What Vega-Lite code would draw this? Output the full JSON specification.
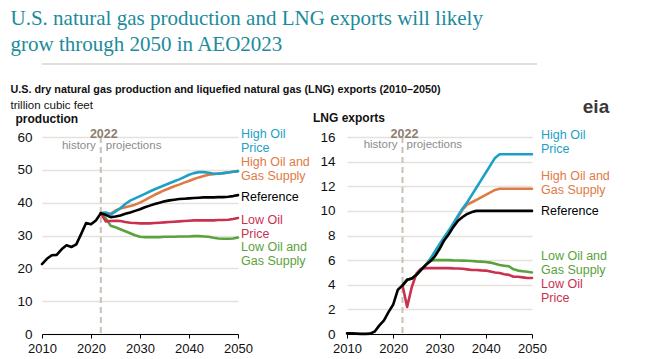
{
  "$schema": "https://vega.github.io/schema/vega-lite/v6.json",
  "padding": {"left": 10, "top": 8, "right": 0, "bottom": 0},
  "background": "white",
  "title": {
    "text": ["U.S. natural gas production and LNG exports will likely", "grow through 2050 in AEO2023"],
    "font": "Liberation Serif", "fontSize": 21, "fontWeight": "normal", "color": "#1b8b9b",
    "anchor": "start", "lineHeight": 26, "offset": 8
  },
  "config": {
    "font": "Liberation Sans",
    "view": {"stroke": null}
  },
  "datasets": {
    "production": [
      {"series": "High Oil and Gas Supply", "year": 2022, "value": 36.8}, {"series": "High Oil and Gas Supply", "year": 2023, "value": 36.8}, {"series": "High Oil and Gas Supply", "year": 2024, "value": 36.6}, {"series": "High Oil and Gas Supply", "year": 2025, "value": 37.6}, {"series": "High Oil and Gas Supply", "year": 2026, "value": 38.2}, {"series": "High Oil and Gas Supply", "year": 2027, "value": 38.6}, {"series": "High Oil and Gas Supply", "year": 2028, "value": 39.0}, {"series": "High Oil and Gas Supply", "year": 2029, "value": 39.4}, {"series": "High Oil and Gas Supply", "year": 2030, "value": 40.0}, {"series": "High Oil and Gas Supply", "year": 2031, "value": 40.8}, {"series": "High Oil and Gas Supply", "year": 2032, "value": 41.6}, {"series": "High Oil and Gas Supply", "year": 2033, "value": 42.4}, {"series": "High Oil and Gas Supply", "year": 2034, "value": 43.1}, {"series": "High Oil and Gas Supply", "year": 2035, "value": 43.8}, {"series": "High Oil and Gas Supply", "year": 2036, "value": 44.4}, {"series": "High Oil and Gas Supply", "year": 2037, "value": 45.0}, {"series": "High Oil and Gas Supply", "year": 2038, "value": 45.5}, {"series": "High Oil and Gas Supply", "year": 2039, "value": 46.1}, {"series": "High Oil and Gas Supply", "year": 2040, "value": 46.6}, {"series": "High Oil and Gas Supply", "year": 2041, "value": 47.2}, {"series": "High Oil and Gas Supply", "year": 2042, "value": 47.7}, {"series": "High Oil and Gas Supply", "year": 2043, "value": 48.1}, {"series": "High Oil and Gas Supply", "year": 2044, "value": 48.5}, {"series": "High Oil and Gas Supply", "year": 2045, "value": 48.7}, {"series": "High Oil and Gas Supply", "year": 2046, "value": 48.9}, {"series": "High Oil and Gas Supply", "year": 2047, "value": 49.0}, {"series": "High Oil and Gas Supply", "year": 2048, "value": 49.2}, {"series": "High Oil and Gas Supply", "year": 2049, "value": 49.4}, {"series": "High Oil and Gas Supply", "year": 2050, "value": 49.6},
      {"series": "High Oil Price", "year": 2022, "value": 36.8}, {"series": "High Oil Price", "year": 2023, "value": 37.0}, {"series": "High Oil Price", "year": 2024, "value": 36.4}, {"series": "High Oil Price", "year": 2025, "value": 37.3}, {"series": "High Oil Price", "year": 2026, "value": 38.3}, {"series": "High Oil Price", "year": 2027, "value": 39.6}, {"series": "High Oil Price", "year": 2028, "value": 40.6}, {"series": "High Oil Price", "year": 2029, "value": 41.3}, {"series": "High Oil Price", "year": 2030, "value": 42.0}, {"series": "High Oil Price", "year": 2031, "value": 42.7}, {"series": "High Oil Price", "year": 2032, "value": 43.4}, {"series": "High Oil Price", "year": 2033, "value": 44.1}, {"series": "High Oil Price", "year": 2034, "value": 44.7}, {"series": "High Oil Price", "year": 2035, "value": 45.3}, {"series": "High Oil Price", "year": 2036, "value": 45.9}, {"series": "High Oil Price", "year": 2037, "value": 46.5}, {"series": "High Oil Price", "year": 2038, "value": 47.1}, {"series": "High Oil Price", "year": 2039, "value": 47.8}, {"series": "High Oil Price", "year": 2040, "value": 48.5}, {"series": "High Oil Price", "year": 2041, "value": 49.0}, {"series": "High Oil Price", "year": 2042, "value": 49.3}, {"series": "High Oil Price", "year": 2043, "value": 49.3}, {"series": "High Oil Price", "year": 2044, "value": 49.1}, {"series": "High Oil Price", "year": 2045, "value": 48.8}, {"series": "High Oil Price", "year": 2046, "value": 48.8}, {"series": "High Oil Price", "year": 2047, "value": 49.0}, {"series": "High Oil Price", "year": 2048, "value": 49.2}, {"series": "High Oil Price", "year": 2049, "value": 49.4}, {"series": "High Oil Price", "year": 2050, "value": 49.6},
      {"series": "Low Oil and Gas Supply", "year": 2022, "value": 36.8}, {"series": "Low Oil and Gas Supply", "year": 2023, "value": 35.3}, {"series": "Low Oil and Gas Supply", "year": 2024, "value": 33.0}, {"series": "Low Oil and Gas Supply", "year": 2025, "value": 32.5}, {"series": "Low Oil and Gas Supply", "year": 2026, "value": 31.9}, {"series": "Low Oil and Gas Supply", "year": 2027, "value": 31.3}, {"series": "Low Oil and Gas Supply", "year": 2028, "value": 30.7}, {"series": "Low Oil and Gas Supply", "year": 2029, "value": 30.1}, {"series": "Low Oil and Gas Supply", "year": 2030, "value": 29.6}, {"series": "Low Oil and Gas Supply", "year": 2031, "value": 29.5}, {"series": "Low Oil and Gas Supply", "year": 2032, "value": 29.5}, {"series": "Low Oil and Gas Supply", "year": 2033, "value": 29.5}, {"series": "Low Oil and Gas Supply", "year": 2034, "value": 29.5}, {"series": "Low Oil and Gas Supply", "year": 2035, "value": 29.6}, {"series": "Low Oil and Gas Supply", "year": 2036, "value": 29.6}, {"series": "Low Oil and Gas Supply", "year": 2037, "value": 29.6}, {"series": "Low Oil and Gas Supply", "year": 2038, "value": 29.7}, {"series": "Low Oil and Gas Supply", "year": 2039, "value": 29.7}, {"series": "Low Oil and Gas Supply", "year": 2040, "value": 29.7}, {"series": "Low Oil and Gas Supply", "year": 2041, "value": 29.8}, {"series": "Low Oil and Gas Supply", "year": 2042, "value": 29.8}, {"series": "Low Oil and Gas Supply", "year": 2043, "value": 29.7}, {"series": "Low Oil and Gas Supply", "year": 2044, "value": 29.6}, {"series": "Low Oil and Gas Supply", "year": 2045, "value": 29.3}, {"series": "Low Oil and Gas Supply", "year": 2046, "value": 29.1}, {"series": "Low Oil and Gas Supply", "year": 2047, "value": 29.0}, {"series": "Low Oil and Gas Supply", "year": 2048, "value": 29.0}, {"series": "Low Oil and Gas Supply", "year": 2049, "value": 29.1}, {"series": "Low Oil and Gas Supply", "year": 2050, "value": 29.4},
      {"series": "Low Oil Price", "year": 2022, "value": 36.8}, {"series": "Low Oil Price", "year": 2023, "value": 34.3}, {"series": "Low Oil Price", "year": 2024, "value": 34.4}, {"series": "Low Oil Price", "year": 2025, "value": 34.5}, {"series": "Low Oil Price", "year": 2026, "value": 34.4}, {"series": "Low Oil Price", "year": 2027, "value": 34.1}, {"series": "Low Oil Price", "year": 2028, "value": 33.9}, {"series": "Low Oil Price", "year": 2029, "value": 33.8}, {"series": "Low Oil Price", "year": 2030, "value": 33.7}, {"series": "Low Oil Price", "year": 2031, "value": 33.7}, {"series": "Low Oil Price", "year": 2032, "value": 33.7}, {"series": "Low Oil Price", "year": 2033, "value": 33.8}, {"series": "Low Oil Price", "year": 2034, "value": 33.9}, {"series": "Low Oil Price", "year": 2035, "value": 34.0}, {"series": "Low Oil Price", "year": 2036, "value": 34.1}, {"series": "Low Oil Price", "year": 2037, "value": 34.2}, {"series": "Low Oil Price", "year": 2038, "value": 34.3}, {"series": "Low Oil Price", "year": 2039, "value": 34.4}, {"series": "Low Oil Price", "year": 2040, "value": 34.5}, {"series": "Low Oil Price", "year": 2041, "value": 34.6}, {"series": "Low Oil Price", "year": 2042, "value": 34.6}, {"series": "Low Oil Price", "year": 2043, "value": 34.6}, {"series": "Low Oil Price", "year": 2044, "value": 34.6}, {"series": "Low Oil Price", "year": 2045, "value": 34.6}, {"series": "Low Oil Price", "year": 2046, "value": 34.7}, {"series": "Low Oil Price", "year": 2047, "value": 34.7}, {"series": "Low Oil Price", "year": 2048, "value": 34.8}, {"series": "Low Oil Price", "year": 2049, "value": 35.0}, {"series": "Low Oil Price", "year": 2050, "value": 35.3},
      {"series": "Reference", "year": 2010, "value": 21.3}, {"series": "Reference", "year": 2011, "value": 22.9}, {"series": "Reference", "year": 2012, "value": 24.0}, {"series": "Reference", "year": 2013, "value": 24.1}, {"series": "Reference", "year": 2014, "value": 25.8}, {"series": "Reference", "year": 2015, "value": 27.0}, {"series": "Reference", "year": 2016, "value": 26.5}, {"series": "Reference", "year": 2017, "value": 27.3}, {"series": "Reference", "year": 2018, "value": 30.5}, {"series": "Reference", "year": 2019, "value": 33.8}, {"series": "Reference", "year": 2020, "value": 33.4}, {"series": "Reference", "year": 2021, "value": 34.6}, {"series": "Reference", "year": 2022, "value": 36.8}, {"series": "Reference", "year": 2023, "value": 36.3}, {"series": "Reference", "year": 2024, "value": 35.6}, {"series": "Reference", "year": 2025, "value": 35.8}, {"series": "Reference", "year": 2026, "value": 36.1}, {"series": "Reference", "year": 2027, "value": 36.6}, {"series": "Reference", "year": 2028, "value": 37.0}, {"series": "Reference", "year": 2029, "value": 37.5}, {"series": "Reference", "year": 2030, "value": 38.0}, {"series": "Reference", "year": 2031, "value": 38.6}, {"series": "Reference", "year": 2032, "value": 39.1}, {"series": "Reference", "year": 2033, "value": 39.6}, {"series": "Reference", "year": 2034, "value": 40.0}, {"series": "Reference", "year": 2035, "value": 40.4}, {"series": "Reference", "year": 2036, "value": 40.7}, {"series": "Reference", "year": 2037, "value": 40.9}, {"series": "Reference", "year": 2038, "value": 41.1}, {"series": "Reference", "year": 2039, "value": 41.2}, {"series": "Reference", "year": 2040, "value": 41.3}, {"series": "Reference", "year": 2041, "value": 41.4}, {"series": "Reference", "year": 2042, "value": 41.5}, {"series": "Reference", "year": 2043, "value": 41.6}, {"series": "Reference", "year": 2044, "value": 41.6}, {"series": "Reference", "year": 2045, "value": 41.6}, {"series": "Reference", "year": 2046, "value": 41.7}, {"series": "Reference", "year": 2047, "value": 41.7}, {"series": "Reference", "year": 2048, "value": 41.8}, {"series": "Reference", "year": 2049, "value": 42.0}, {"series": "Reference", "year": 2050, "value": 42.3}
    ],
    "lng": [
      {"series": "High Oil and Gas Supply", "year": 2022, "value": 3.95}, {"series": "High Oil and Gas Supply", "year": 2023, "value": 4.4}, {"series": "High Oil and Gas Supply", "year": 2024, "value": 4.5}, {"series": "High Oil and Gas Supply", "year": 2025, "value": 4.8}, {"series": "High Oil and Gas Supply", "year": 2026, "value": 5.2}, {"series": "High Oil and Gas Supply", "year": 2027, "value": 5.6}, {"series": "High Oil and Gas Supply", "year": 2028, "value": 6.0}, {"series": "High Oil and Gas Supply", "year": 2029, "value": 6.5}, {"series": "High Oil and Gas Supply", "year": 2030, "value": 7.1}, {"series": "High Oil and Gas Supply", "year": 2031, "value": 7.7}, {"series": "High Oil and Gas Supply", "year": 2032, "value": 8.3}, {"series": "High Oil and Gas Supply", "year": 2033, "value": 8.9}, {"series": "High Oil and Gas Supply", "year": 2034, "value": 9.5}, {"series": "High Oil and Gas Supply", "year": 2035, "value": 10.1}, {"series": "High Oil and Gas Supply", "year": 2036, "value": 10.5}, {"series": "High Oil and Gas Supply", "year": 2037, "value": 10.7}, {"series": "High Oil and Gas Supply", "year": 2038, "value": 10.9}, {"series": "High Oil and Gas Supply", "year": 2039, "value": 11.1}, {"series": "High Oil and Gas Supply", "year": 2040, "value": 11.3}, {"series": "High Oil and Gas Supply", "year": 2041, "value": 11.5}, {"series": "High Oil and Gas Supply", "year": 2042, "value": 11.7}, {"series": "High Oil and Gas Supply", "year": 2043, "value": 11.8}, {"series": "High Oil and Gas Supply", "year": 2044, "value": 11.8}, {"series": "High Oil and Gas Supply", "year": 2045, "value": 11.8}, {"series": "High Oil and Gas Supply", "year": 2046, "value": 11.8}, {"series": "High Oil and Gas Supply", "year": 2047, "value": 11.8}, {"series": "High Oil and Gas Supply", "year": 2048, "value": 11.8}, {"series": "High Oil and Gas Supply", "year": 2049, "value": 11.8}, {"series": "High Oil and Gas Supply", "year": 2050, "value": 11.8},
      {"series": "High Oil Price", "year": 2022, "value": 3.95}, {"series": "High Oil Price", "year": 2023, "value": 4.4}, {"series": "High Oil Price", "year": 2024, "value": 4.5}, {"series": "High Oil Price", "year": 2025, "value": 4.8}, {"series": "High Oil Price", "year": 2026, "value": 5.2}, {"series": "High Oil Price", "year": 2027, "value": 5.6}, {"series": "High Oil Price", "year": 2028, "value": 6.1}, {"series": "High Oil Price", "year": 2029, "value": 6.7}, {"series": "High Oil Price", "year": 2030, "value": 7.3}, {"series": "High Oil Price", "year": 2031, "value": 7.85}, {"series": "High Oil Price", "year": 2032, "value": 8.4}, {"series": "High Oil Price", "year": 2033, "value": 9.0}, {"series": "High Oil Price", "year": 2034, "value": 9.6}, {"series": "High Oil Price", "year": 2035, "value": 10.2}, {"series": "High Oil Price", "year": 2036, "value": 10.7}, {"series": "High Oil Price", "year": 2037, "value": 11.3}, {"series": "High Oil Price", "year": 2038, "value": 11.9}, {"series": "High Oil Price", "year": 2039, "value": 12.5}, {"series": "High Oil Price", "year": 2040, "value": 13.1}, {"series": "High Oil Price", "year": 2041, "value": 13.7}, {"series": "High Oil Price", "year": 2042, "value": 14.3}, {"series": "High Oil Price", "year": 2043, "value": 14.6}, {"series": "High Oil Price", "year": 2044, "value": 14.6}, {"series": "High Oil Price", "year": 2045, "value": 14.6}, {"series": "High Oil Price", "year": 2046, "value": 14.6}, {"series": "High Oil Price", "year": 2047, "value": 14.6}, {"series": "High Oil Price", "year": 2048, "value": 14.6}, {"series": "High Oil Price", "year": 2049, "value": 14.6}, {"series": "High Oil Price", "year": 2050, "value": 14.6},
      {"series": "Low Oil and Gas Supply", "year": 2022, "value": 3.95}, {"series": "Low Oil and Gas Supply", "year": 2023, "value": 4.4}, {"series": "Low Oil and Gas Supply", "year": 2024, "value": 4.5}, {"series": "Low Oil and Gas Supply", "year": 2025, "value": 4.8}, {"series": "Low Oil and Gas Supply", "year": 2026, "value": 5.2}, {"series": "Low Oil and Gas Supply", "year": 2027, "value": 5.6}, {"series": "Low Oil and Gas Supply", "year": 2028, "value": 5.95}, {"series": "Low Oil and Gas Supply", "year": 2029, "value": 6.0}, {"series": "Low Oil and Gas Supply", "year": 2030, "value": 6.0}, {"series": "Low Oil and Gas Supply", "year": 2031, "value": 6.0}, {"series": "Low Oil and Gas Supply", "year": 2032, "value": 6.0}, {"series": "Low Oil and Gas Supply", "year": 2033, "value": 5.98}, {"series": "Low Oil and Gas Supply", "year": 2034, "value": 5.97}, {"series": "Low Oil and Gas Supply", "year": 2035, "value": 5.96}, {"series": "Low Oil and Gas Supply", "year": 2036, "value": 5.95}, {"series": "Low Oil and Gas Supply", "year": 2037, "value": 5.93}, {"series": "Low Oil and Gas Supply", "year": 2038, "value": 5.9}, {"series": "Low Oil and Gas Supply", "year": 2039, "value": 5.88}, {"series": "Low Oil and Gas Supply", "year": 2040, "value": 5.85}, {"series": "Low Oil and Gas Supply", "year": 2041, "value": 5.8}, {"series": "Low Oil and Gas Supply", "year": 2042, "value": 5.7}, {"series": "Low Oil and Gas Supply", "year": 2043, "value": 5.6}, {"series": "Low Oil and Gas Supply", "year": 2044, "value": 5.55}, {"series": "Low Oil and Gas Supply", "year": 2045, "value": 5.5}, {"series": "Low Oil and Gas Supply", "year": 2046, "value": 5.25}, {"series": "Low Oil and Gas Supply", "year": 2047, "value": 5.15}, {"series": "Low Oil and Gas Supply", "year": 2048, "value": 5.1}, {"series": "Low Oil and Gas Supply", "year": 2049, "value": 5.05}, {"series": "Low Oil and Gas Supply", "year": 2050, "value": 5.0},
      {"series": "Low Oil Price", "year": 2022, "value": 3.95}, {"series": "Low Oil Price", "year": 2023, "value": 2.2}, {"series": "Low Oil Price", "year": 2024, "value": 3.8}, {"series": "Low Oil Price", "year": 2025, "value": 4.9}, {"series": "Low Oil Price", "year": 2026, "value": 5.3}, {"series": "Low Oil Price", "year": 2027, "value": 5.35}, {"series": "Low Oil Price", "year": 2028, "value": 5.35}, {"series": "Low Oil Price", "year": 2029, "value": 5.35}, {"series": "Low Oil Price", "year": 2030, "value": 5.35}, {"series": "Low Oil Price", "year": 2031, "value": 5.35}, {"series": "Low Oil Price", "year": 2032, "value": 5.35}, {"series": "Low Oil Price", "year": 2033, "value": 5.33}, {"series": "Low Oil Price", "year": 2034, "value": 5.32}, {"series": "Low Oil Price", "year": 2035, "value": 5.3}, {"series": "Low Oil Price", "year": 2036, "value": 5.25}, {"series": "Low Oil Price", "year": 2037, "value": 5.2}, {"series": "Low Oil Price", "year": 2038, "value": 5.2}, {"series": "Low Oil Price", "year": 2039, "value": 5.17}, {"series": "Low Oil Price", "year": 2040, "value": 5.15}, {"series": "Low Oil Price", "year": 2041, "value": 5.08}, {"series": "Low Oil Price", "year": 2042, "value": 5.0}, {"series": "Low Oil Price", "year": 2043, "value": 4.95}, {"series": "Low Oil Price", "year": 2044, "value": 4.85}, {"series": "Low Oil Price", "year": 2045, "value": 4.8}, {"series": "Low Oil Price", "year": 2046, "value": 4.65}, {"series": "Low Oil Price", "year": 2047, "value": 4.65}, {"series": "Low Oil Price", "year": 2048, "value": 4.6}, {"series": "Low Oil Price", "year": 2049, "value": 4.55}, {"series": "Low Oil Price", "year": 2050, "value": 4.55},
      {"series": "Reference", "year": 2010, "value": 0.05}, {"series": "Reference", "year": 2011, "value": 0.05}, {"series": "Reference", "year": 2012, "value": 0.03}, {"series": "Reference", "year": 2013, "value": 0.01}, {"series": "Reference", "year": 2014, "value": 0.01}, {"series": "Reference", "year": 2015, "value": 0.03}, {"series": "Reference", "year": 2016, "value": 0.2}, {"series": "Reference", "year": 2017, "value": 0.7}, {"series": "Reference", "year": 2018, "value": 1.1}, {"series": "Reference", "year": 2019, "value": 1.8}, {"series": "Reference", "year": 2020, "value": 2.4}, {"series": "Reference", "year": 2021, "value": 3.6}, {"series": "Reference", "year": 2022, "value": 3.95}, {"series": "Reference", "year": 2023, "value": 4.4}, {"series": "Reference", "year": 2024, "value": 4.5}, {"series": "Reference", "year": 2025, "value": 4.8}, {"series": "Reference", "year": 2026, "value": 5.2}, {"series": "Reference", "year": 2027, "value": 5.6}, {"series": "Reference", "year": 2028, "value": 5.9}, {"series": "Reference", "year": 2029, "value": 6.3}, {"series": "Reference", "year": 2030, "value": 6.9}, {"series": "Reference", "year": 2031, "value": 7.6}, {"series": "Reference", "year": 2032, "value": 8.1}, {"series": "Reference", "year": 2033, "value": 8.7}, {"series": "Reference", "year": 2034, "value": 9.2}, {"series": "Reference", "year": 2035, "value": 9.5}, {"series": "Reference", "year": 2036, "value": 9.75}, {"series": "Reference", "year": 2037, "value": 9.9}, {"series": "Reference", "year": 2038, "value": 10.0}, {"series": "Reference", "year": 2039, "value": 10.0}, {"series": "Reference", "year": 2040, "value": 10.0}, {"series": "Reference", "year": 2041, "value": 10.0}, {"series": "Reference", "year": 2042, "value": 10.0}, {"series": "Reference", "year": 2043, "value": 10.0}, {"series": "Reference", "year": 2044, "value": 10.0}, {"series": "Reference", "year": 2045, "value": 10.0}, {"series": "Reference", "year": 2046, "value": 10.0}, {"series": "Reference", "year": 2047, "value": 10.0}, {"series": "Reference", "year": 2048, "value": 10.0}, {"series": "Reference", "year": 2049, "value": 10.0}, {"series": "Reference", "year": 2050, "value": 10.0}
    ]
  },
  "spacing": 18,
  "vconcat": [
    {
      "width": 495, "height": 1,
      "data": {"values": [{}]},
      "mark": {"type": "rule", "color": "#d9d5cd", "strokeWidth": 1.5},
      "encoding": {
        "x": {"datum": 0, "type": "quantitative", "scale": {"domain": [0, 1], "range": [0, 495]}, "axis": null},
        "x2": {"datum": 1},
        "y": {"value": 0}
      }
    },
    {
      "title": {
        "text": "U.S. dry natural gas production and liquefied natural gas (LNG) exports (2010–2050)",
        "subtitle": "trillion cubic feet",
        "anchor": "start", "font": "Liberation Sans", "fontSize": 10.8, "fontWeight": "bold", "color": "#111111",
        "subtitleFont": "Liberation Sans", "subtitleFontSize": 11.5, "subtitleColor": "#111111", "subtitlePadding": 5, "offset": -13, "dx": -4.5
      },
      "bounds": "flush",
      "spacing": 109,
      "hconcat": [
        {
          "width": 196, "height": 197,
          "data": {"name": "production"},
          "layer": [
            {"data": {"values": [{}]}, "mark": {"type": "rule", "color": "#c9c0b6", "strokeWidth": 2, "strokeDash": [6, 4]}, "encoding": {"x": {"datum": 2022, "type": "quantitative", "scale": {"domain": [2010, 2050], "zero": false},
                      "axis": {"values": [2010, 2020, 2030, 2040, 2050], "tickCount": 20, "format": "d", "title": null, "grid": false, "labelFontSize": 13, "labelColor": "#111111", "domainColor": "#000000", "tickColor": "#000000", "tickSize": 4, "labelPadding": 4, "labelFlush": false}}}},
            {"data": {"values": [{}]}, "mark": {"type": "text", "text": "2022", "fontWeight": "bold", "fontSize": 12.5, "color": "#8b7e71", "baseline": "alphabetic", "dx": 3, "dy": 1}, "encoding": {"x": {"datum": 2022, "type": "quantitative"}, "y": {"datum": 60, "type": "quantitative", "scale": {"domain": [0, 60], "zero": true},
                      "axis": {"values": [0, 10, 20, 30, 40, 50, 60], "tickCount": 20, "labelOverlap": false, "title": "production", "titleAngle": 0, "titleAlign": "left", "titleBaseline": "middle", "titleX": -27, "titleY": -18.5, "titleFontSize": 12, "titleFontWeight": "bold", "titleColor": "#111111", "grid": true, "gridColor": "#e5e1da", "gridWidth": 1.5, "domain": false, "ticks": false, "labelPadding": 10, "labelFontSize": 13.5, "labelColor": "#111111"}}}},
            {"data": {"values": [{}]}, "mark": {"type": "text", "text": "history", "fontSize": 11.5, "color": "#8c8c8c", "align": "right", "baseline": "middle", "dx": -5, "dy": 8.5}, "encoding": {"x": {"datum": 2022, "type": "quantitative"}, "y": {"datum": 60, "type": "quantitative"}}},
            {"data": {"values": [{}]}, "mark": {"type": "text", "text": "projections", "fontSize": 11.5, "color": "#8c8c8c", "align": "left", "baseline": "middle", "dx": 5, "dy": 8.5}, "encoding": {"x": {"datum": 2022, "type": "quantitative"}, "y": {"datum": 60, "type": "quantitative"}}},
            {
              "mark": {"type": "line", "strokeWidth": 2.6, "strokeJoin": "round", "strokeCap": "round"},
              "encoding": {
                "x": {"field": "year", "type": "quantitative", "scale": {"domain": [2010, 2050], "zero": false},
                      "axis": {"values": [2010, 2020, 2030, 2040, 2050], "tickCount": 20, "format": "d", "title": null, "grid": false, "labelFontSize": 13, "labelColor": "#111111", "domainColor": "#000000", "tickColor": "#000000", "tickSize": 4, "labelPadding": 4, "labelFlush": false}},
                "y": {"field": "value", "type": "quantitative", "scale": {"domain": [0, 60], "zero": true},
                      "axis": {"values": [0, 10, 20, 30, 40, 50, 60], "tickCount": 20, "labelOverlap": false, "title": "production", "titleAngle": 0, "titleAlign": "left", "titleBaseline": "middle", "titleX": -27, "titleY": -18.5, "titleFontSize": 12, "titleFontWeight": "bold", "titleColor": "#111111", "grid": true, "gridColor": "#e5e1da", "gridWidth": 1.5, "domain": false, "ticks": false, "labelPadding": 10, "labelFontSize": 13.5, "labelColor": "#111111"}},
                "color": {"field": "series", "type": "nominal", "legend": null,
                          "scale": {"domain": ["High Oil and Gas Supply", "High Oil Price", "Low Oil and Gas Supply", "Low Oil Price", "Reference"], "range": ["#e07a45", "#1ca0c6", "#5aa23c", "#c9314f", "#000000"]}}
              }
            },
            {"transform": [{"filter": "datum.year == 2050 && datum.series == 'High Oil Price'"}], "mark": {"type": "text", "text": ["High Oil", "Price"], "align": "left", "baseline": "middle", "dx": 3, "dy": -37, "lineHeight": 14, "fontSize": 12.5, "color": "#1ca0c6"}, "encoding": {"x": {"field": "year", "type": "quantitative"}, "y": {"field": "value", "type": "quantitative"}}},
            {"transform": [{"filter": "datum.year == 2050 && datum.series == 'High Oil and Gas Supply'"}], "mark": {"type": "text", "text": ["High Oil and", "Gas Supply"], "align": "left", "baseline": "middle", "dx": 3, "dy": -9.5, "lineHeight": 14, "fontSize": 12.5, "color": "#e07a45"}, "encoding": {"x": {"field": "year", "type": "quantitative"}, "y": {"field": "value", "type": "quantitative"}}},
            {"transform": [{"filter": "datum.year == 2050 && datum.series == 'Reference'"}], "mark": {"type": "text", "text": "Reference", "align": "left", "baseline": "middle", "dx": 3, "dy": 2, "fontSize": 12.5, "color": "#000000"}, "encoding": {"x": {"field": "year", "type": "quantitative"}, "y": {"field": "value", "type": "quantitative"}}},
            {"transform": [{"filter": "datum.year == 2050 && datum.series == 'Low Oil Price'"}], "mark": {"type": "text", "text": ["Low Oil", "Price"], "align": "left", "baseline": "middle", "dx": 3, "dy": 1.5, "lineHeight": 14, "fontSize": 12.5, "color": "#c9314f"}, "encoding": {"x": {"field": "year", "type": "quantitative"}, "y": {"field": "value", "type": "quantitative"}}},
            {"transform": [{"filter": "datum.year == 2050 && datum.series == 'Low Oil and Gas Supply'"}], "mark": {"type": "text", "text": ["Low Oil and", "Gas Supply"], "align": "left", "baseline": "middle", "dx": 3, "dy": 9.5, "lineHeight": 14, "fontSize": 12.5, "color": "#5aa23c"}, "encoding": {"x": {"field": "year", "type": "quantitative"}, "y": {"field": "value", "type": "quantitative"}}}
          ]
        },
        {
          "width": 185, "height": 197,
          "data": {"name": "lng"},
          "layer": [
            {"data": {"values": [{}]}, "mark": {"type": "rule", "color": "#c9c0b6", "strokeWidth": 2, "strokeDash": [6, 4]}, "encoding": {"x": {"datum": 2022, "type": "quantitative", "scale": {"domain": [2010, 2050], "zero": false},
                      "axis": {"values": [2010, 2020, 2030, 2040, 2050], "tickCount": 20, "format": "d", "title": null, "grid": false, "labelFontSize": 13, "labelColor": "#111111", "domainColor": "#000000", "tickColor": "#000000", "tickSize": 4, "labelPadding": 4, "labelFlush": false}}}},
            {"data": {"values": [{}]}, "mark": {"type": "text", "text": "2022", "fontWeight": "bold", "fontSize": 12.5, "color": "#8b7e71", "baseline": "alphabetic", "dx": 2, "dy": 1}, "encoding": {"x": {"datum": 2022, "type": "quantitative"}, "y": {"datum": 16, "type": "quantitative", "scale": {"domain": [0, 16], "zero": true},
                      "axis": {"values": [0, 2, 4, 6, 8, 10, 12, 14, 16], "tickCount": 20, "labelOverlap": false, "title": "LNG exports", "titleAngle": 0, "titleAlign": "left", "titleBaseline": "middle", "titleX": -34.5, "titleY": -19.5, "titleFontSize": 12, "titleFontWeight": "bold", "titleColor": "#111111", "grid": true, "gridColor": "#e5e1da", "gridWidth": 1.5, "domain": false, "ticks": false, "labelPadding": 12, "labelFontSize": 13.5, "labelColor": "#111111"}}}},
            {"data": {"values": [{}]}, "mark": {"type": "text", "text": "history", "fontSize": 11.5, "color": "#8c8c8c", "align": "right", "baseline": "middle", "dx": -5, "dy": 8}, "encoding": {"x": {"datum": 2022, "type": "quantitative"}, "y": {"datum": 16, "type": "quantitative"}}},
            {"data": {"values": [{}]}, "mark": {"type": "text", "text": "projections", "fontSize": 11.5, "color": "#8c8c8c", "align": "left", "baseline": "middle", "dx": 4, "dy": 8}, "encoding": {"x": {"datum": 2022, "type": "quantitative"}, "y": {"datum": 16, "type": "quantitative"}}},
            {"data": {"values": [{}]}, "mark": {"type": "text", "text": "eia", "fontSize": 19, "fontWeight": "bold", "color": "#3a3a3a", "align": "center", "baseline": "alphabetic", "dx": 64, "dy": -24}, "encoding": {"x": {"datum": 2050, "type": "quantitative"}, "y": {"datum": 16, "type": "quantitative"}}},
            {
              "mark": {"type": "line", "strokeWidth": 2.6, "strokeJoin": "round", "strokeCap": "round"},
              "encoding": {
                "x": {"field": "year", "type": "quantitative", "scale": {"domain": [2010, 2050], "zero": false},
                      "axis": {"values": [2010, 2020, 2030, 2040, 2050], "tickCount": 20, "format": "d", "title": null, "grid": false, "labelFontSize": 13, "labelColor": "#111111", "domainColor": "#000000", "tickColor": "#000000", "tickSize": 4, "labelPadding": 4, "labelFlush": false}},
                "y": {"field": "value", "type": "quantitative", "scale": {"domain": [0, 16], "zero": true},
                      "axis": {"values": [0, 2, 4, 6, 8, 10, 12, 14, 16], "tickCount": 20, "labelOverlap": false, "title": "LNG exports", "titleAngle": 0, "titleAlign": "left", "titleBaseline": "middle", "titleX": -34.5, "titleY": -19.5, "titleFontSize": 12, "titleFontWeight": "bold", "titleColor": "#111111", "grid": true, "gridColor": "#e5e1da", "gridWidth": 1.5, "domain": false, "ticks": false, "labelPadding": 12, "labelFontSize": 13.5, "labelColor": "#111111"}},
                "color": {"field": "series", "type": "nominal", "legend": null,
                          "scale": {"domain": ["High Oil and Gas Supply", "High Oil Price", "Low Oil and Gas Supply", "Low Oil Price", "Reference"], "range": ["#e07a45", "#1ca0c6", "#5aa23c", "#c9314f", "#000000"]}}
              }
            },
            {"transform": [{"filter": "datum.year == 2050 && datum.series == 'High Oil Price'"}], "mark": {"type": "text", "text": ["High Oil", "Price"], "align": "left", "baseline": "middle", "dx": 9, "dy": -19.5, "lineHeight": 14, "fontSize": 12.5, "color": "#1ca0c6"}, "encoding": {"x": {"field": "year", "type": "quantitative"}, "y": {"field": "value", "type": "quantitative"}}},
            {"transform": [{"filter": "datum.year == 2050 && datum.series == 'High Oil and Gas Supply'"}], "mark": {"type": "text", "text": ["High Oil and", "Gas Supply"], "align": "left", "baseline": "middle", "dx": 9, "dy": -12.7, "lineHeight": 14, "fontSize": 12.5, "color": "#e07a45"}, "encoding": {"x": {"field": "year", "type": "quantitative"}, "y": {"field": "value", "type": "quantitative"}}},
            {"transform": [{"filter": "datum.year == 2050 && datum.series == 'Reference'"}], "mark": {"type": "text", "text": "Reference", "align": "left", "baseline": "middle", "dx": 9, "dy": 0, "fontSize": 12.5, "color": "#000000"}, "encoding": {"x": {"field": "year", "type": "quantitative"}, "y": {"field": "value", "type": "quantitative"}}},
            {"transform": [{"filter": "datum.year == 2050 && datum.series == 'Low Oil and Gas Supply'"}], "mark": {"type": "text", "text": ["Low Oil and", "Gas Supply"], "align": "left", "baseline": "middle", "dx": 9, "dy": -16, "lineHeight": 14, "fontSize": 12.5, "color": "#5aa23c"}, "encoding": {"x": {"field": "year", "type": "quantitative"}, "y": {"field": "value", "type": "quantitative"}}},
            {"transform": [{"filter": "datum.year == 2050 && datum.series == 'Low Oil Price'"}], "mark": {"type": "text", "text": ["Low Oil", "Price"], "align": "left", "baseline": "middle", "dx": 9, "dy": 5.6, "lineHeight": 14, "fontSize": 12.5, "color": "#c9314f"}, "encoding": {"x": {"field": "year", "type": "quantitative"}, "y": {"field": "value", "type": "quantitative"}}}
          ]
        }
      ]
    }
  ]
}
